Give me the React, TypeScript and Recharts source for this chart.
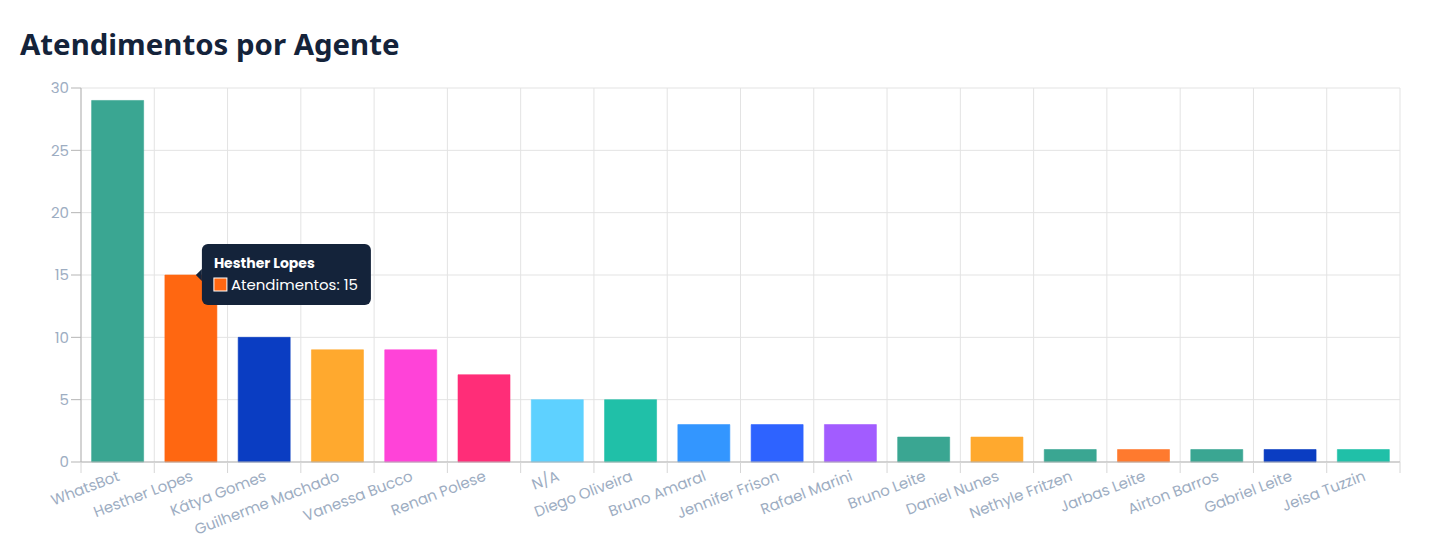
import React from 'react'
import { BarChart, Bar, Cell, XAxis, YAxis, CartesianGrid, LabelList } from 'recharts'

const agentes = [
  'WhatsBot', 'Hesther Lopes', 'Kátya Gomes', 'Guilherme Machado', 'Vanessa Bucco',
  'Renan Polese', 'N/A', 'Diego Oliveira', 'Bruno Amaral', 'Jennifer Frison',
  'Rafael Marini', 'Bruno Leite', 'Daniel Nunes', 'Nethyle Fritzen', 'Jarbas Leite',
  'Airton Barros', 'Gabriel Leite', 'Jeisa Tuzzin',
]
const atendimentos = [29, 15, 10, 9, 9, 7, 5, 5, 3, 3, 3, 2, 2, 1, 1, 1, 1, 1]
const cores = [
  '#3AA692', '#FF6711', '#0A3DC2', '#FFA92E', '#FF43D8', '#FF2D78', '#5ED1FF', '#20C0A8',
  '#3396FF', '#2E63FF', '#A25CFF', '#3AA692', '#FFA92E', '#3AA692', '#FF7A2E', '#3AA692',
  '#0A3DC2', '#20C0A8',
]
const yTicks = [0, 5, 10, 15, 20, 25, 30]
const destaque = 1

const data = agentes.map((nome, i) => ({ nome, Atendimentos: atendimentos[i] }))

const FONT = 'Poppins, "Noto Sans", sans-serif'
const TICK_COLOR = '#9DADC2'

function AgentTick(props: any) {
  const { x, y, payload, bandSize } = props
  const half = (bandSize || 0) / 2
  return (
    <g>
      <line x1={x - half} x2={x - half} y1={y - 8} y2={y + 3} stroke="#d6d6d6" />
      {payload.index === agentes.length - 1 && (
        <line x1={x + half} x2={x + half} y1={y - 8} y2={y + 3} stroke="#d6d6d6" />
      )}
      <text
        x={x + 3}
        y={y + 10}
        transform={`rotate(-21, ${x + 3}, ${y + 10})`}
        textAnchor="end"
        fill={TICK_COLOR}
        fontSize={15}
        fontFamily={FONT}
      >
        {payload.value}
      </text>
    </g>
  )
}

function TooltipBox(props: any) {
  const { x, y, width, index, value } = props
  if (index !== destaque) return null
  const tipX = x + width / 2 + 5
  const bx = tipX + 6
  const by = y - 31
  const w = 169
  const h = 61
  const caret = `M${tipX},${y} L${bx},${y - 6} L${bx},${y + 6} Z`
  return (
    <g>
      <rect x={bx} y={by} width={w} height={h} rx={6} fill="#14233A" />
      <path d={caret} fill="#14233A" />
      <text x={bx + 12} y={by + 24} fill="#fff" fontSize={14} fontWeight={700} fontFamily={FONT}>
        {agentes[index]}
      </text>
      <rect x={bx + 12} y={by + 34} width={13} height={13} fill={cores[index]} stroke="#fff" strokeWidth={1} />
      <text x={bx + 29} y={by + 46} fill="#fff" fontSize={15} fontFamily={FONT}>
        {`Atendimentos: ${value}`}
      </text>
    </g>
  )
}

export default function App() {
  const n = agentes.length
  return (
    <div style={{ position: 'relative', width: 1421, height: 532 }}>
      <div
        style={{
          position: 'absolute',
          left: 12,
          top: 16,
          fontFamily: '"Noto Sans", sans-serif',
          fontWeight: 700,
          fontSize: 29.4,
          color: '#14233A',
          margin: 0,
        }}
      >
        Atendimentos por Agente
      </div>
      <BarChart
        width={1421}
        height={532}
        data={data}
        margin={{ top: 80, right: 29, left: 33, bottom: 8 }}
        barCategoryGap="14.5%"
      >
        <CartesianGrid
          stroke="#e3e3e3"
          verticalCoordinatesGenerator={({ offset }: any) =>
            Array.from({ length: n + 1 }, (_, i) => offset.left + (i * offset.width) / n)
          }
        />
        <XAxis
          dataKey="nome"
          interval={0}
          tickLine={false}
          stroke="#b5b5b5"
          height={70}
          tick={(p: any) => <AgentTick {...p} bandSize={(1421 - 33 - 29 - 40) / n} />}
        />
        <YAxis
          width={40}
          domain={[0, 30]}
          ticks={yTicks}
          tickSize={10}
          tickMargin={2}
          stroke="#b5b5b5"
          tick={{ fill: TICK_COLOR, fontSize: 15, fontFamily: FONT }}
        />
        <Bar dataKey="Atendimentos" isAnimationActive={false}>
          {data.map((d, i) => (
            <Cell key={d.nome} fill={cores[i]} stroke={cores[i]} strokeOpacity={0.6} />
          ))}
          <LabelList dataKey="Atendimentos" content={(p: any) => <TooltipBox {...p} />} />
        </Bar>
      </BarChart>
    </div>
  )
}
